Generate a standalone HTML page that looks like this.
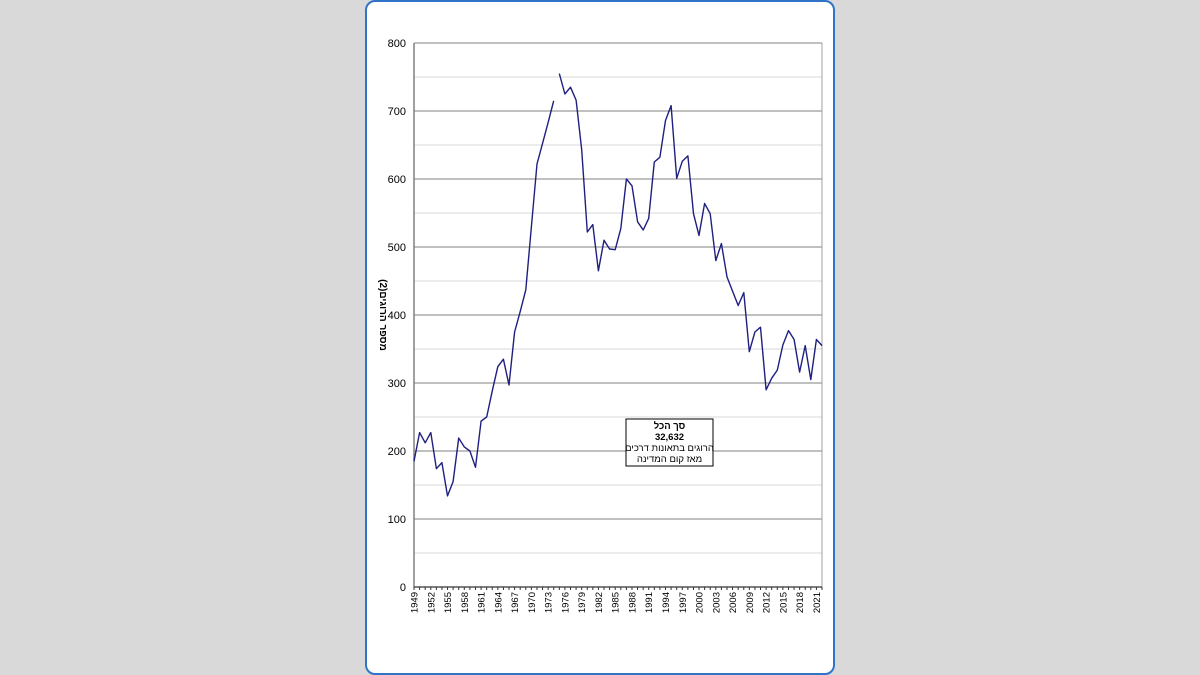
<!DOCTYPE html>
<html lang="he">
<head>
<meta charset="utf-8">
<style>
  html,body{margin:0;padding:0;}
  body{width:1200px;height:675px;background:#d9d9d9;position:relative;overflow:hidden;font-family:"Liberation Sans","Noto Sans CJK SC",sans-serif;}
  #panel{position:absolute;left:365px;top:0px;width:466px;height:671px;background:#fff;border:2px solid #2f74c8;border-radius:10px;}
  svg{position:absolute;left:0;top:0;}
</style>
</head>
<body>
<div id="panel"></div>
<svg id="chart" width="1200" height="675"></svg>
<script>
const years = [];
for (let y = 1949; y <= 2022; y++) years.push(y);
const fatalities = [185,227,212,227,174,183,134,155,219,206,200,176,244,250,288,324,335,297,375,405,437,530,622,652,683,715,755,725,735,716,643,522,533,465,510,497,496,527,600,590,537,525,542,625,632,686,708,601,626,634,549,517,564,549,480,505,456,435,414,433,346,375,382,290,307,319,356,377,364,316,355,305,364,355];
const yTicks = [0,100,200,300,400,500,600,700,800];
const yMinor = [50,150,250,350,450,550,650,750];
const breakAfterYear = 1974;

const NS = "http://www.w3.org/2000/svg";
const svg = document.getElementById("chart");
const X0 = 414, X1 = 822, Y0 = 587, Y1 = 43;
const xScale = yr => X0 + (yr - 1949) * (X1 - X0) / (2022 - 1949);
const yScale = v => Y0 - v * (Y0 - Y1) / 800;

function mk(tag, attrs) {
  const e = document.createElementNS(NS, tag);
  for (const k in attrs) e.setAttribute(k, attrs[k]);
  svg.appendChild(e);
  return e;
}

// minor gridlines
yMinor.forEach(v => {
  const l = mk("line", {x1: X0, x2: X1, y1: yScale(v), y2: yScale(v), stroke: "#d8d8d8", "stroke-width": 1});
  
  
});
// major gridlines + labels
yTicks.forEach(v => {
  if (v > 0) {
    const l = mk("line", {x1: X0, x2: X1, y1: yScale(v), y2: yScale(v), stroke: "#808080", "stroke-width": 1});
    
    
  }
  const t = mk("text", {x: X0 - 8, y: yScale(v) + 4, "text-anchor": "end", "font-size": 11, fill: "#000"});
  t.textContent = v;
  
  
});
// right border
const rb = mk("line", {x1: X1, x2: X1, y1: Y1, y2: Y0, stroke: "#a0a0a0", "stroke-width": 1});


// axes
const ya = mk("line", {x1: X0, x2: X0, y1: Y1, y2: Y0, stroke: "#808080", "stroke-width": 1.5});


const xa = mk("line", {x1: X0, x2: X1, y1: Y0, y2: Y0, stroke: "#555", "stroke-width": 1.5});



// x ticks and labels
years.forEach((yr, i) => {
  const x = xScale(yr);
  const tk = mk("line", {x1: x, x2: x, y1: Y0, y2: Y0 + 3, stroke: "#333", "stroke-width": 1});
  
  
  if (i % 3 === 0) {
    const t = mk("text", {x: 0, y: 0, "text-anchor": "end", "font-size": 9.5, fill: "#000",
      transform: `translate(${x + 3.5},${Y0 + 5}) rotate(-90)`});
    t.textContent = yr;
    
    
  }
});

// line series (split at break)
let seg1 = [], seg2 = [];
years.forEach((yr, i) => {
  const p = xScale(yr).toFixed(1) + "," + yScale(fatalities[i]).toFixed(1);
  if (yr <= breakAfterYear) seg1.push(p); else seg2.push(p);
});
[seg1, seg2].forEach(s => {
  const pl = mk("polyline", {points: s.join(" "), fill: "none", stroke: "#1f1f80", "stroke-width": 1.4, "stroke-linejoin": "round"});
  
  
});

// y-axis title
const yt = mk("text", {x: 0, y: 0, "text-anchor": "middle", "font-size": 10, "font-weight": "bold", fill: "#000",
  transform: "translate(380,315) rotate(90)", direction: "rtl"});
yt.textContent = "מספר הרוגים(2)";



// annotation box
const box = mk("rect", {x: 626, y: 419, width: 87, height: 47, fill: "#fff", stroke: "#000", "stroke-width": 1});


const lines = [["סך הכל", "bold", 430], ["32,632", "bold", 441], ["הרוגים בתאונות דרכים", "normal", 452], ["מאז קום המדינה", "normal", 463]];
lines.forEach(([txt, w, y]) => {
  const t = mk("text", {x: 669.5, y: y - 1, "text-anchor": "middle", "font-size": 9.5, "font-weight": w, fill: "#000", direction: "rtl"});
  t.textContent = txt;
  
  
});
</script>
</body>
</html>
